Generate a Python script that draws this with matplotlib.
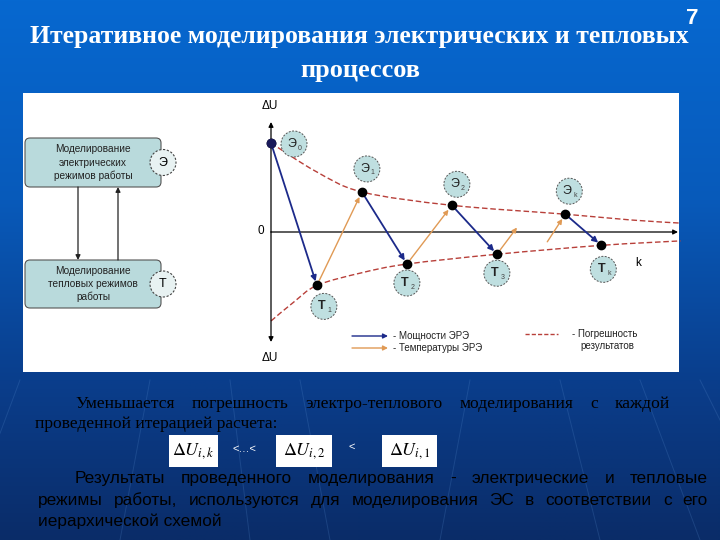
import numpy as np
import matplotlib
matplotlib.use("Agg")
import matplotlib.pyplot as plt
from matplotlib.patches import FancyBboxPatch, Ellipse, Rectangle, PathPatch
from matplotlib.path import Path

# ---------------- data ----------------
title_lines = ["Итеративное моделирования электрических и тепловых", "процессов"]
slide_number = "7"

box_texts = [["Моделирование", "электрических", "режимов работы"],
             ["Моделирование", "тепловых режимов", "работы"]]
box_tags = ["Э", "Т"]

# iteration diagram: x = iteration position, y = relative error ΔU
e_x = [0.0, 1.01, 2.01, 3.27]
e_y = [1.0, 0.45, 0.30, 0.20]
e_subs = ["0", "1", "2", "k"]
t_x = [0.51, 1.51, 2.51, 3.67]
t_y = [-0.60, -0.36, -0.25, -0.15]
t_subs = ["1", "2", "3", "k"]

upper_x = [0.0, 0.5, 1.01, 2.01, 3.27, 4.0, 4.55]
upper_y = [1.0, 0.68, 0.45, 0.30, 0.20, 0.135, 0.10]
lower_x = [0.0, 0.25, 0.51, 1.0, 1.51, 2.51, 3.67, 4.55]
lower_y = [-1.0, -0.79, -0.60, -0.46, -0.36, -0.25, -0.15, -0.10]

# broken orange step between T3 and Tk ("...")
gap_from = (2.77, 0.10)
gap_to = (3.07, -0.11)

legend_items = ["- Мощности ЭРЭ", "- Температуры ЭРЭ"]
legend_err = ["- Погрешность", "результатов"]

para1 = ["Уменьшается погрешность электро-теплового моделирования с каждой",
         "проведенной итерацией расчета:"]
formula = [r"$\Delta U_{i,k}$", r"$\Delta U_{i,2}$", r"$\Delta U_{i,1}$"]
formula_seps = ["<…<", "<"]
para2 = ["Результаты проведенного моделирования - электрические и тепловые",
         "режимы работы, используются для моделирования ЭС в соответствии с его",
         "иерархической схемой"]

# ---------------- styles ----------------
BLUE = "#1c2a8a"
ORANGE = "#e09a55"
RED = "#b8403a"
TEAL = "#bfdfe0"
BOXFILL = "#b9dadc"

plt.rcParams["mathtext.fontset"] = "stix"

W, H = 720, 540
fig = plt.figure(figsize=(7.2, 5.4), dpi=100)
ax = fig.add_axes([0, 0, 1, 1])
ax.set_xlim(0, W)
ax.set_ylim(H, 0)
ax.axis("off")

# background gradient
stops_y = np.array([0, 200, 380, 540])
stops_c = np.array([[6, 104, 208], [8, 90, 186], [10, 62, 140], [10, 44, 104]]) / 255.0
yy = np.linspace(0, H, 300)
grad = np.stack([np.interp(yy, stops_y, stops_c[:, k]) for k in range(3)], axis=-1)
grad = np.repeat(grad[:, None, :], 2, axis=1)
ax.imshow(grad, extent=(0, W, H, 0), aspect="auto", zorder=0)

# faint streaks in lower area
for x_top, x_bot in [(20, -40), (150, 120), (230, 250), (300, 330), (470, 440),
                     (560, 600), (640, 700), (700, 780)]:
    ax.plot([x_top, x_bot], [380, 540], color="#5a8fd0", lw=0.7, alpha=0.22, zorder=0.5)

# white panel
ax.add_patch(Rectangle((23, 93), 656, 279, facecolor="white", edgecolor="none", zorder=1))

renderer = fig.canvas.get_renderer()


def text_width(t):
    bb = t.get_window_extent(renderer=renderer)
    return bb.width


def fit_text(x, y, s, width, ha="left", va="center", **kw):
    t = ax.text(x, y, s, ha=ha, va=va, fontsize=10, zorder=5, **kw)
    w = text_width(t)
    t.set_fontsize(10 * width / w)
    return t


def justify(x0, x1, y, line, fontsize, **kw):
    words = line.split(" ")
    objs = [ax.text(0, y, w, ha="left", va="baseline", fontsize=fontsize, zorder=5, **kw)
            for w in words]
    widths = [text_width(o) for o in objs]
    gap = ((x1 - x0) - sum(widths)) / max(len(words) - 1, 1)
    x = x0
    for o, w in zip(objs, widths):
        o.set_x(x)
        x += w + gap


# title
fit_text(30, 37, title_lines[0], 660, color="white", fontweight="bold",
         family="Liberation Serif")
ax.text(360, 70, title_lines[1], ha="center", va="center", color="white",
        fontweight="bold", family="Liberation Serif", fontsize=19, zorder=5)
ax.text(692, 18, slide_number, ha="center", va="center", color="white",
        fontweight="bold", family="Liberation Sans", fontsize=16, zorder=5)

# left boxes
box_y = [(138, 187), (260, 308)]
for (y0, y1), lines, tag in zip(box_y, box_texts, box_tags):
    ax.add_patch(FancyBboxPatch((25, y0), 136, y1 - y0,
                                boxstyle="round,pad=0,rounding_size=5",
                                facecolor=BOXFILL, edgecolor="#555555", lw=0.8, zorder=2))
    ym = (y0 + y1) / 2
    for k, line in enumerate(lines):
        ax.text(93, ym + (k - 1) * 13, line, ha="center", va="center",
                fontsize=7.3, family="Liberation Sans", color="#222222", zorder=5)
    ax.add_patch(Ellipse((163, ym), 26, 26, facecolor="#e8f2f2", edgecolor="#444444",
                         lw=0.8, ls=(0, (2, 1.5)), zorder=3))
    ax.text(163, ym, tag, ha="center", va="center", fontsize=9,
            family="Liberation Sans", zorder=5)

ax.annotate("", xy=(78, 260), xytext=(78, 187),
            arrowprops=dict(arrowstyle="-|>", color="#222222", lw=0.9,
                            mutation_scale=7, shrinkA=0, shrinkB=0), zorder=4)
ax.annotate("", xy=(118, 187), xytext=(118, 260),
            arrowprops=dict(arrowstyle="-|>", color="#222222", lw=0.9,
                            mutation_scale=7, shrinkA=0, shrinkB=0), zorder=4)

# ---------------- iteration chart axes ----------------
PX = 90.0   # pixels per x unit
PY = 89.0   # pixels per y unit
ox, oy = 271, 232
cx0, cx1, cy0, cy1 = 250, 690, 95, 372
cax = fig.add_axes([cx0 / W, 1 - cy1 / H, (cx1 - cx0) / W, (cy1 - cy0) / H])
cax.set_xlim((cx0 - ox) / PX, (cx1 - ox) / PX)
cax.set_ylim((oy - cy1) / PY, (oy - cy0) / PY)
cax.axis("off")
cax.patch.set_alpha(0)

xr = (678 - ox) / PX
ytop = (oy - 122) / PY
ybot = (oy - 342) / PY
arrow_k = dict(arrowstyle="-|>", color="black", lw=0.9, mutation_scale=7,
               shrinkA=0, shrinkB=0)
cax.annotate("", xy=(0, ytop), xytext=(0, 0), arrowprops=arrow_k)
cax.annotate("", xy=(0, ybot), xytext=(0, 0), arrowprops=arrow_k)
cax.annotate("", xy=(xr, 0), xytext=(0, 0), arrowprops=arrow_k)


def smooth_path(xs, ys):
    P = np.column_stack([xs, ys])
    n = len(P)
    verts = [P[0]]
    codes = [Path.MOVETO]
    for i in range(n - 1):
        p0 = P[max(i - 1, 0)]
        p1 = P[i]
        p2 = P[i + 1]
        p3 = P[min(i + 2, n - 1)]
        c1 = p1 + (p2 - p0) / 6.0
        c2 = p2 - (p3 - p1) / 6.0
        verts += [c1, c2, p2]
        codes += [Path.CURVE4] * 3
    return Path(verts, codes)


for xs, ys in [(upper_x, upper_y), (lower_x, lower_y)]:
    cax.add_patch(PathPatch(smooth_path(xs, ys), facecolor="none", edgecolor=RED,
                            lw=1.0, ls=(0, (4, 2)), zorder=2))

blue_k = dict(arrowstyle="-|>", color=BLUE, lw=1.3, mutation_scale=8,
              shrinkA=0, shrinkB=3)
orange_k = dict(arrowstyle="-|>", color=ORANGE, lw=1.0, mutation_scale=7,
                shrinkA=3, shrinkB=4)
for i in range(4):
    cax.annotate("", xy=(t_x[i], t_y[i]), xytext=(e_x[i], e_y[i]), arrowprops=blue_k,
                 zorder=3)
for i in range(2):
    cax.annotate("", xy=(e_x[i + 1], e_y[i + 1]), xytext=(t_x[i], t_y[i]),
                 arrowprops=orange_k, zorder=3)
cax.annotate("", xy=gap_from, xytext=(t_x[2], t_y[2]), arrowprops=orange_k, zorder=3)
cax.annotate("", xy=(e_x[3], e_y[3]), xytext=gap_to,
             arrowprops=dict(orange_k, shrinkA=0), zorder=3)

cax.scatter(e_x, e_y, s=36, color="black", zorder=5)
cax.scatter(t_x, t_y, s=36, color="black", zorder=5)
cax.scatter([e_x[0]], [e_y[0]], s=36, color="#1a1a5a", zorder=6)

e_off = [(23, 1), (5, -23), (5, -21), (4, -23)]
t_off = [(7, 21), (0, 19), (0, 19), (2, 24)]
R = 13
for xs, ys, offs, base, subs in [(e_x, e_y, e_off, "Э", e_subs),
                                 (t_x, t_y, t_off, "T", t_subs)]:
    for x, y, (dx, dy), s in zip(xs, ys, offs, subs):
        lx, ly = x + dx / PX, y - dy / PY
        cax.add_patch(Ellipse((lx, ly), 2 * R / PX, 2 * R / PY, facecolor=TEAL,
                              edgecolor="#555555", lw=0.7, ls=(0, (2, 1.5)), zorder=4))
        cax.text(lx - 2 / PX, ly, base, ha="center", va="center", fontsize=9,
                 family="Liberation Sans", color="#222222", zorder=6,
                 fontweight="bold" if base == "T" else "normal")
        cax.text(lx + 4 / PX, ly - 4 / PY, s, ha="left", va="center", fontsize=5,
                 family="Liberation Sans", color="#444444", zorder=6)

# axis labels
ax.text(270, 106, "ΔU", ha="center", va="center", fontsize=8.5, family="Liberation Sans",
        zorder=5)
ax.text(270, 358, "ΔU", ha="center", va="center", fontsize=8.5, family="Liberation Sans",
        zorder=5)
ax.text(261, 231, "0", ha="center", va="center", fontsize=8.5, family="Liberation Sans",
        zorder=5)
ax.text(638, 263, "k", ha="center", va="center", fontsize=8.5, family="Liberation Sans",
        zorder=5)

# legend
ax.annotate("", xy=(388, 336), xytext=(352, 336),
            arrowprops=dict(arrowstyle="-|>", color=BLUE, lw=1.0, mutation_scale=7,
                            shrinkA=0, shrinkB=0), zorder=5)
ax.annotate("", xy=(388, 348), xytext=(352, 348),
            arrowprops=dict(arrowstyle="-|>", color=ORANGE, lw=1.0, mutation_scale=7,
                            shrinkA=0, shrinkB=0), zorder=5)
for k, s in enumerate(legend_items):
    ax.text(393, 336 + 12 * k, s, ha="left", va="center", fontsize=7,
            family="Liberation Sans", color="#222222", zorder=5)
ax.plot([525, 558], [334, 334], color=RED, lw=1.0, ls=(0, (3, 1.5)), zorder=5)
ax.text(572, 334, legend_err[0], ha="left", va="center", fontsize=7,
        family="Liberation Sans", color="#222222", zorder=5)
ax.text(580, 346, legend_err[1], ha="left", va="center", fontsize=7,
        family="Liberation Sans", color="#222222", zorder=5)

# ---------------- bottom text ----------------
t = fit_text(35, 428, para1[1], 248, va="baseline", color="black",
             family="Liberation Serif")
fs1 = t.get_fontsize() * 0.98
t.set_fontsize(fs1)
justify(75, 670, 408, para1[0], fs1, color="black", family="Liberation Serif")

fbox = [(169, 218), (276, 332), (382, 437)]
for (x0, x1), f in zip(fbox, formula):
    ax.add_patch(Rectangle((x0, 435), x1 - x0, 32, facecolor="white", edgecolor="none",
                           zorder=4))
    ax.text((x0 + x1) / 2, 451, f, ha="center", va="center", fontsize=13, zorder=5)
ax.text(244, 449, formula_seps[0], ha="center", va="center", fontsize=8,
        color="white", family="Liberation Sans", zorder=5)
ax.text(352, 447, formula_seps[1], ha="center", va="center", fontsize=8,
        color="white", family="Liberation Sans", zorder=5)

t = fit_text(38, 526, para2[2], 190, va="baseline", color="black",
             family="Liberation Sans")
fs2 = t.get_fontsize() * 0.97
t.set_fontsize(fs2)
justify(75, 708, 483, para2[0], fs2, color="black", family="Liberation Sans")
justify(38, 708, 505, para2[1], fs2, color="black", family="Liberation Sans")

fig.savefig("out.png", dpi=100)
